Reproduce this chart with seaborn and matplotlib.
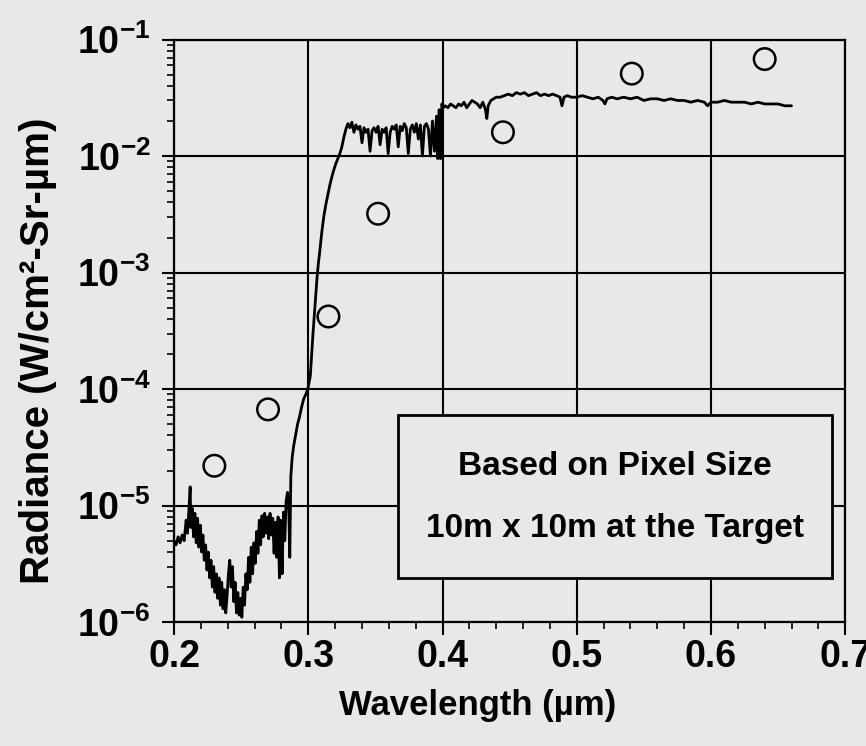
import matplotlib
matplotlib.use("Agg")
import matplotlib.pyplot as plt
import numpy as np
import pandas as pd
import seaborn as sns
from matplotlib.patches import Rectangle
from matplotlib.ticker import MultipleLocator, LogLocator, NullFormatter

# ---- measured spectrum (wavelength in µm, radiance in W/cm²-Sr-µm) ----
spectrum_wavelength = [
    0.2000, 0.2015, 0.2030, 0.2045, 0.2060, 0.2075, 0.2090, 0.2100, 0.2110, 0.2120,
    0.2125, 0.2135, 0.2145, 0.2155, 0.2165, 0.2175, 0.2185, 0.2195, 0.2205, 0.2215,
    0.2225, 0.2235, 0.2245, 0.2255, 0.2265, 0.2275, 0.2285, 0.2295, 0.2305, 0.2315,
    0.2325, 0.2335, 0.2345, 0.2355, 0.2365, 0.2375, 0.2385, 0.2395, 0.2405, 0.2415,
    0.2425, 0.2435, 0.2445, 0.2455, 0.2465, 0.2475, 0.2485, 0.2495, 0.2505, 0.2515,
    0.2525, 0.2535, 0.2545, 0.2555, 0.2565, 0.2575, 0.2585, 0.2595, 0.2605, 0.2615,
    0.2625, 0.2635, 0.2645, 0.2655, 0.2665, 0.2675, 0.2685, 0.2695, 0.2705, 0.2715,
    0.2725, 0.2735, 0.2745, 0.2755, 0.2765, 0.2775, 0.2785, 0.2795, 0.2805, 0.2815,
    0.2825, 0.2835, 0.2845, 0.2855, 0.2862, 0.2870, 0.2880, 0.2890, 0.2905, 0.2920,
    0.2935, 0.2950, 0.2965, 0.2985, 0.3000, 0.3015, 0.3025, 0.3035, 0.3045, 0.3055,
    0.3065, 0.3075, 0.3085, 0.3100, 0.3115, 0.3130, 0.3145, 0.3160, 0.3175, 0.3190,
    0.3205, 0.3220, 0.3235, 0.3250, 0.3265, 0.3280, 0.3295, 0.3310, 0.3325, 0.3340,
    0.3355, 0.3370, 0.3385, 0.3400, 0.3415, 0.3430, 0.3445, 0.3460, 0.3475, 0.3490,
    0.3505, 0.3520, 0.3535, 0.3550, 0.3565, 0.3580, 0.3595, 0.3610, 0.3625, 0.3640,
    0.3655, 0.3670, 0.3685, 0.3700, 0.3715, 0.3730, 0.3745, 0.3760, 0.3775, 0.3790,
    0.3805, 0.3820, 0.3835, 0.3850, 0.3865, 0.3880, 0.3895, 0.3910, 0.3925, 0.3940,
    0.3955, 0.3965, 0.3975, 0.3985, 0.3995, 0.4005, 0.4020, 0.4040, 0.4060, 0.4080,
    0.4100, 0.4120, 0.4140, 0.4160, 0.4180, 0.4200, 0.4220, 0.4240, 0.4260, 0.4280,
    0.4300, 0.4320, 0.4330, 0.4340, 0.4360, 0.4380, 0.4400, 0.4430, 0.4460, 0.4490,
    0.4520, 0.4550, 0.4580, 0.4610, 0.4640, 0.4670, 0.4700, 0.4730, 0.4760, 0.4790,
    0.4820, 0.4850, 0.4875, 0.4890, 0.4905, 0.4930, 0.4960, 0.5000, 0.5040, 0.5080,
    0.5120, 0.5160, 0.5195, 0.5210, 0.5225, 0.5260, 0.5300, 0.5350, 0.5400, 0.5450,
    0.5500, 0.5550, 0.5600, 0.5650, 0.5700, 0.5750, 0.5800, 0.5850, 0.5900, 0.5950,
    0.5975, 0.6000, 0.6050, 0.6100, 0.6150, 0.6200, 0.6250, 0.6300, 0.6350, 0.6400,
    0.6450, 0.6500, 0.6550, 0.6600,
]
spectrum_radiance = [
    5.0e-6, 4.6e-6, 5.4e-6, 4.8e-6, 5.6e-6, 5.0e-6, 7.5e-6, 5.8e-6, 9.0e-6, 1.45e-5,
    6.5e-6, 9.5e-6, 5.4e-6, 8.6e-6, 4.8e-6, 7.8e-6, 4.4e-6, 6.8e-6, 4.0e-6, 5.6e-6,
    3.4e-6, 4.6e-6, 2.8e-6, 4.0e-6, 2.4e-6, 3.4e-6, 2.0e-6, 3.0e-6, 1.8e-6, 2.6e-6,
    1.6e-6, 2.4e-6, 1.4e-6, 2.2e-6, 1.3e-6, 1.9e-6, 1.2e-6, 1.7e-6, 2.6e-6, 3.4e-6,
    2.0e-6, 3.0e-6, 1.5e-6, 2.2e-6, 1.2e-6, 1.8e-6, 1.15e-6, 1.6e-6, 1.1e-6, 2.0e-6,
    1.4e-6, 2.6e-6, 1.9e-6, 3.6e-6, 2.2e-6, 4.4e-6, 2.6e-6, 4.8e-6, 3.2e-6, 6.0e-6,
    3.9e-6, 7.5e-6, 4.6e-6, 8.2e-6, 5.4e-6, 8.6e-6, 5.8e-6, 8.0e-6, 5.2e-6, 8.6e-6,
    5.6e-6, 7.8e-6, 3.9e-6, 7.2e-6, 3.6e-6, 8.0e-6, 2.4e-6, 7.5e-6, 2.6e-6, 8.8e-6,
    5.0e-6, 1.1e-5, 1.3e-5, 9.0e-6, 3.6e-6, 1.8e-5, 2.6e-5, 3.2e-5, 4.0e-5, 5.0e-5,
    5.8e-5, 7.0e-5, 8.2e-5, 9.2e-5, 1.05e-4, 1.3e-4, 2.0e-4, 3.0e-4, 4.3e-4, 6.0e-4,
    9.0e-4, 1.2e-3, 1.5e-3, 2.2e-3, 3.0e-3, 3.8e-3, 4.6e-3, 5.6e-3, 6.6e-3, 7.6e-3,
    8.6e-3, 9.5e-3, 1.05e-2, 1.2e-2, 1.45e-2, 1.7e-2, 1.9e-2, 1.75e-2, 1.95e-2, 1.6e-2,
    1.85e-2, 1.7e-2, 1.8e-2, 1.3e-2, 1.75e-2, 1.6e-2, 1.7e-2, 1.1e-2, 1.65e-2, 1.75e-2,
    1.6e-2, 1.8e-2, 1.25e-2, 1.7e-2, 1.6e-2, 1.75e-2, 1.05e-2, 1.6e-2, 1.8e-2, 1.7e-2,
    1.85e-2, 1.2e-2, 1.8e-2, 1.65e-2, 1.9e-2, 1.75e-2, 1.05e-2, 1.7e-2, 1.85e-2, 1.6e-2,
    1.9e-2, 1.4e-2, 1.85e-2, 1.0e-2, 1.8e-2, 1.9e-2, 1.7e-2, 1.0e-2, 2.0e-2, 1.1e-2,
    2.2e-2, 9.5e-3, 2.5e-2, 9.5e-3, 2.8e-2, 2.6e-2, 2.7e-2, 2.6e-2, 2.8e-2, 2.7e-2,
    2.6e-2, 2.8e-2, 2.7e-2, 2.9e-2, 2.6e-2, 2.8e-2, 3.0e-2, 2.9e-2, 2.8e-2, 2.6e-2,
    2.9e-2, 2.5e-2, 2.1e-2, 2.7e-2, 3.0e-2, 3.1e-2, 3.2e-2, 3.2e-2, 3.3e-2, 3.4e-2,
    3.3e-2, 3.5e-2, 3.4e-2, 3.5e-2, 3.3e-2, 3.4e-2, 3.5e-2, 3.3e-2, 3.4e-2, 3.3e-2,
    3.4e-2, 3.3e-2, 3.2e-2, 2.7e-2, 3.2e-2, 3.3e-2, 3.2e-2, 3.2e-2, 3.3e-2, 3.2e-2,
    3.1e-2, 3.2e-2, 3.0e-2, 2.8e-2, 3.1e-2, 3.2e-2, 3.1e-2, 3.2e-2, 3.1e-2, 3.2e-2,
    3.0e-2, 3.1e-2, 3.1e-2, 3.0e-2, 3.1e-2, 3.0e-2, 3.0e-2, 2.9e-2, 3.0e-2, 2.9e-2,
    2.7e-2, 2.9e-2, 2.9e-2, 3.0e-2, 2.9e-2, 2.9e-2, 2.9e-2, 2.8e-2, 2.9e-2, 2.8e-2,
    2.8e-2, 2.8e-2, 2.7e-2, 2.7e-2,
]

# ---- pixel-size based radiance estimates (open circles) ----
pixel_wavelength = [0.230, 0.270, 0.315, 0.352, 0.445, 0.541, 0.640]
pixel_radiance = [2.2e-5, 6.7e-5, 4.2e-4, 3.2e-3, 1.6e-2, 5.1e-2, 6.8e-2]

# ---- axis ticks ----
x_ticks = [0.2, 0.3, 0.4, 0.5, 0.6, 0.7]
x_tick_labels = ["0.2", "0.3", "0.4", "0.5", "0.6", "0.7"]
y_ticks = [1e-6, 1e-5, 1e-4, 1e-3, 1e-2, 1e-1]
y_tick_labels = [r"$\mathbf{10^{-6}}$", r"$\mathbf{10^{-5}}$", r"$\mathbf{10^{-4}}$",
                 r"$\mathbf{10^{-3}}$", r"$\mathbf{10^{-2}}$", r"$\mathbf{10^{-1}}$"]

note_lines = ["Based on Pixel Size", "10m x 10m at the Target"]

BG = "#e8e8e8"

sns.set_theme(style="ticks")
plt.rcParams["font.family"] = ["Liberation Sans", "DejaVu Sans"]
plt.rcParams["font.weight"] = "bold"
plt.rcParams["mathtext.fontset"] = "custom"
plt.rcParams["mathtext.rm"] = "Liberation Sans:bold"
plt.rcParams["mathtext.bf"] = "Liberation Sans:bold"
plt.rcParams["mathtext.it"] = "Liberation Sans:bold"

spec_df = pd.DataFrame({"wavelength": spectrum_wavelength, "radiance": spectrum_radiance})
pix_df = pd.DataFrame({"wavelength": pixel_wavelength, "radiance": pixel_radiance})

fig = plt.figure(figsize=(8.66, 7.46), dpi=100, facecolor=BG)
ax = fig.add_axes([0.201, 0.166, 0.775, 0.781])
ax.set_facecolor(BG)

sns.lineplot(data=spec_df, x="wavelength", y="radiance", estimator=None, sort=False,
             color="black", linewidth=2.0, ax=ax, zorder=4)
sns.scatterplot(data=pix_df, x="wavelength", y="radiance", marker="o", s=240,
                facecolors="none", edgecolor="black", linewidth=1.8, ax=ax, zorder=5)

ax.set_yscale("log")
ax.set_xlim(0.2, 0.7)
ax.set_ylim(1e-6, 1e-1)

ax.set_xticks(x_ticks)
ax.set_xticklabels(x_tick_labels)
ax.xaxis.set_minor_locator(MultipleLocator(0.02))
ax.set_yticks(y_ticks)
ax.set_yticklabels(y_tick_labels)
ax.yaxis.set_minor_locator(LogLocator(base=10, subs=np.arange(2, 10)))
ax.yaxis.set_minor_formatter(NullFormatter())

ax.grid(True, which="major", color="black", linewidth=1.5)
ax.set_axisbelow(True)
for sp in ax.spines.values():
    sp.set_visible(True)
    sp.set_color("black")
    sp.set_linewidth(1.6)

ax.tick_params(axis="both", which="major", direction="out", length=9, width=1.5,
               color="black", labelsize=27, labelcolor="black", pad=3)
ax.tick_params(axis="y", which="major", pad=8)
ax.tick_params(axis="both", which="minor", direction="out", length=5, width=1.2,
               color="black")

ax.set_xlabel("Wavelength (µm)", fontsize=25, fontweight="bold", color="black")
ax.xaxis.set_label_coords(0.452, -0.115)
ax.set_ylabel("Radiance (W/cm²-Sr-µm)", fontsize=29, fontweight="bold", color="black")
ax.yaxis.set_label_coords(-0.175, 0.465)

# annotation box in the lower right
ax.add_patch(Rectangle((0.334, 0.0755), 0.647, 0.28, transform=ax.transAxes,
                       facecolor=BG, edgecolor="black", linewidth=2, zorder=3))
ax.text(0.657, 0.268, note_lines[0], transform=ax.transAxes, ha="center", va="center",
        fontsize=24, fontweight="bold", color="black", zorder=6)
ax.text(0.657, 0.161, note_lines[1], transform=ax.transAxes, ha="center", va="center",
        fontsize=24, fontweight="bold", color="black", zorder=6)

fig.savefig("out.png", dpi=100, facecolor=BG)
